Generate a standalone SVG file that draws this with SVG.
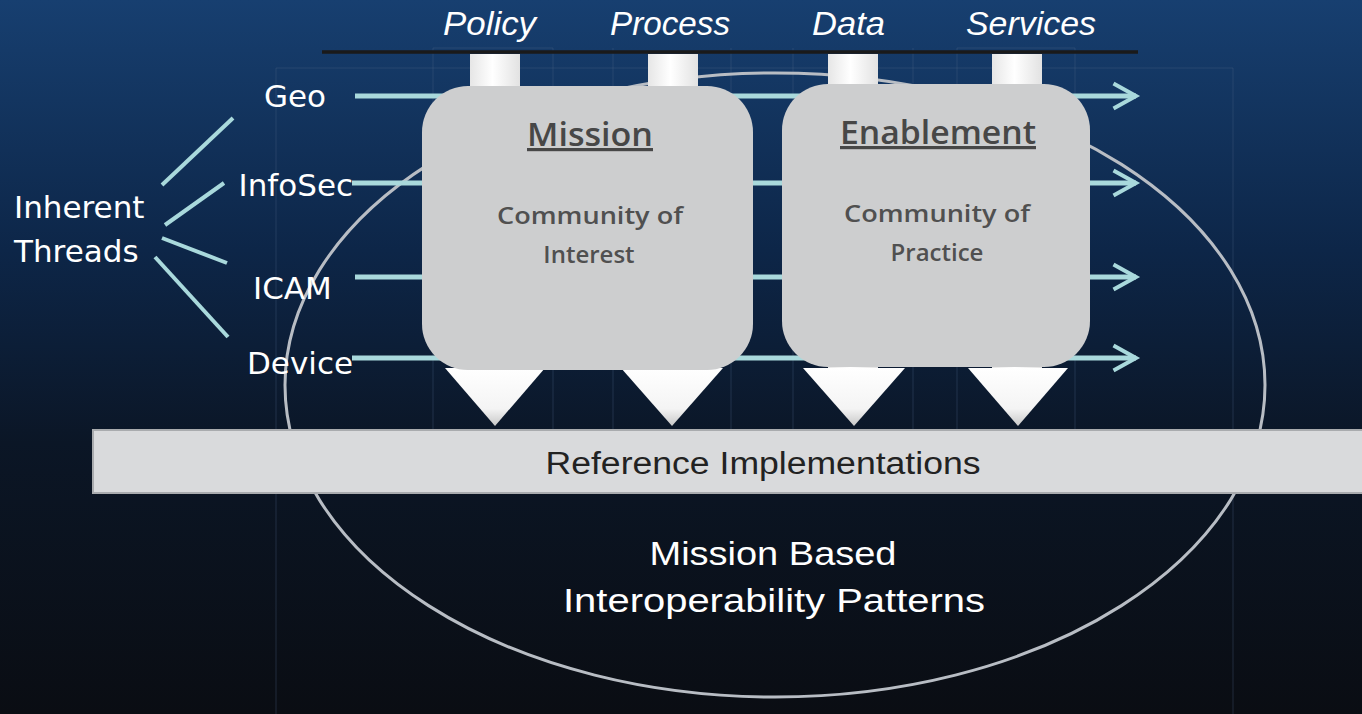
<svg xmlns="http://www.w3.org/2000/svg" width="1362" height="714" viewBox="0 0 1362 714">
<defs>
<linearGradient id="bg" x1="0" y1="0" x2="0" y2="1">
<stop offset="0" stop-color="#173f70"/>
<stop offset="0.35" stop-color="#0d2648"/>
<stop offset="0.62" stop-color="#0b1626"/>
<stop offset="1" stop-color="#0a0d13"/>
</linearGradient>
<linearGradient id="arrowFill" x1="0" y1="0" x2="1" y2="0">
<stop offset="0" stop-color="#e6e6e6"/>
<stop offset="0.45" stop-color="#ffffff"/>
<stop offset="1" stop-color="#e2e2e2"/>
</linearGradient>
<linearGradient id="headFill" x1="0" y1="0" x2="0" y2="1">
<stop offset="0" stop-color="#ffffff"/>
<stop offset="0.7" stop-color="#f4f4f4"/>
<stop offset="1" stop-color="#c8c8c8"/>
</linearGradient>
<marker id="chev" viewBox="0 0 12 12" refX="10" refY="6" markerWidth="6" markerHeight="6" orient="auto" markerUnits="strokeWidth">
<path d="M1,1 L10,6 L1,11" fill="none" stroke="#a9d9dc" stroke-width="1.6"/>
</marker>
<style>
.lbl{font-family:"DejaVu Sans","Liberation Sans",sans-serif;font-size:31px;fill:#ffffff}
.hdr{font-family:"Liberation Sans",sans-serif;font-style:italic;font-size:33px;fill:#ffffff}
.thread{stroke:#a9d9dc;stroke-width:5;fill:none}
.branch{stroke:#a9d9dc;stroke-width:4;fill:none}
.box{fill:#cdcecf}
.boxT{font-family:"Open Sans","Noto Sans",sans-serif;font-weight:600;fill:#474747;text-anchor:middle}
.boxS{font-family:"Open Sans","Noto Sans",sans-serif;font-weight:600;font-size:24px;fill:#505050;text-anchor:middle}
.grid{stroke:#4a6384;stroke-width:1;opacity:0.35;fill:none}
.shaft{fill:url(#arrowFill)}
.head{fill:url(#headFill)}
.big{font-family:"Liberation Sans",sans-serif;font-size:34px;fill:#ffffff;text-anchor:middle}
</style>
</defs>
<rect width="1362" height="714" fill="url(#bg)"/>

<g id="grid">
<path class="grid" d="M276,68 V714 M1233,68 V714 M276,68 H1233 M433,48 V430 M553,48 V430 M613,48 V430 M731,48 V430 M793,48 V430 M913,48 V430 M957,48 V430 M1075,48 V430 M433,48 H553 M957,48 H1075"/>
</g>

<g id="ellipse">
<ellipse cx="775" cy="385" rx="490" ry="312" fill="none" stroke="#b8bdc4" stroke-width="3"/>
</g>

<g id="topline">
<line x1="322" y1="52" x2="1138" y2="52" stroke="#1a1a1a" stroke-width="3.5"/>
</g>

<g id="headers">
<text class="hdr" x="443" y="35" textLength="93" lengthAdjust="spacingAndGlyphs">Policy</text>
<text class="hdr" x="610" y="35" textLength="120" lengthAdjust="spacingAndGlyphs">Process</text>
<text class="hdr" x="812" y="35" textLength="73" lengthAdjust="spacingAndGlyphs">Data</text>
<text class="hdr" x="966" y="35" textLength="130" lengthAdjust="spacingAndGlyphs">Services</text>
</g>

<g id="connectors">
<line class="thread" x1="355" y1="96" x2="1136" y2="96" marker-end="url(#chev)"/>
<line class="thread" x1="352" y1="183" x2="1136" y2="183" marker-end="url(#chev)"/>
<line class="thread" x1="355" y1="277" x2="1136" y2="277" marker-end="url(#chev)"/>
<line class="thread" x1="352" y1="358" x2="1136" y2="358" marker-end="url(#chev)"/>
<line class="branch" x1="162" y1="185" x2="233" y2="118"/>
<line class="branch" x1="165" y1="225" x2="224" y2="183"/>
<line class="branch" x1="162" y1="238" x2="227" y2="263"/>
<line class="branch" x1="155" y1="257" x2="228" y2="337"/>
</g>

<g id="arrows">
<rect class="shaft" x="470" y="54" width="50" height="330"/>
<rect class="shaft" x="648" y="54" width="50" height="330"/>
<rect class="shaft" x="828" y="54" width="50" height="330"/>
<rect class="shaft" x="992" y="54" width="50" height="330"/>
<polygon class="head" points="445,368 545,368 495,426"/>
<polygon class="head" points="621,368 723,368 672,426"/>
<polygon class="head" points="803,368 905,368 854,426"/>
<polygon class="head" points="968,368 1068,368 1018,426"/>
</g>

<g id="mission">
<rect class="box" x="422" y="86" width="331" height="284" rx="46"/>
<text class="boxT" x="590" y="146" font-size="32" text-decoration="underline" textLength="126" lengthAdjust="spacingAndGlyphs">Mission</text>
<text class="boxS" x="590" y="224" textLength="186" lengthAdjust="spacingAndGlyphs">Community of</text>
<text class="boxS" x="589" y="263">Interest</text>
</g>

<g id="enablement">
<rect class="box" x="782" y="84" width="308" height="283" rx="46"/>
<text class="boxT" x="938" y="144" font-size="32" text-decoration="underline" textLength="196" lengthAdjust="spacingAndGlyphs">Enablement</text>
<text class="boxS" x="937" y="222" textLength="186" lengthAdjust="spacingAndGlyphs">Community of</text>
<text class="boxS" x="937" y="261">Practice</text>
</g>

<g id="threads">
<text class="lbl" x="264" y="107">Geo</text>
<text class="lbl" x="353" y="196" text-anchor="end">InfoSec</text>
<text class="lbl" x="253" y="299">ICAM</text>
<text class="lbl" x="247" y="374">Device</text>
<text class="lbl" x="14" y="218">Inherent</text>
<text class="lbl" x="14" y="262">Threads</text>
</g>

<g id="reference">
<rect x="93" y="430" width="1275" height="63" fill="#d9dadc" stroke="#a9abae" stroke-width="2"/>
<text x="763" y="474" font-family="Liberation Sans, sans-serif" font-size="31" fill="#222222" text-anchor="middle" textLength="435" lengthAdjust="spacingAndGlyphs">Reference Implementations</text>
</g>

<g id="patterns">
<text class="big" x="773" y="565" textLength="247" lengthAdjust="spacingAndGlyphs">Mission Based</text>
<text class="big" x="774" y="612" textLength="422" lengthAdjust="spacingAndGlyphs">Interoperability Patterns</text>
</g>
</svg>
